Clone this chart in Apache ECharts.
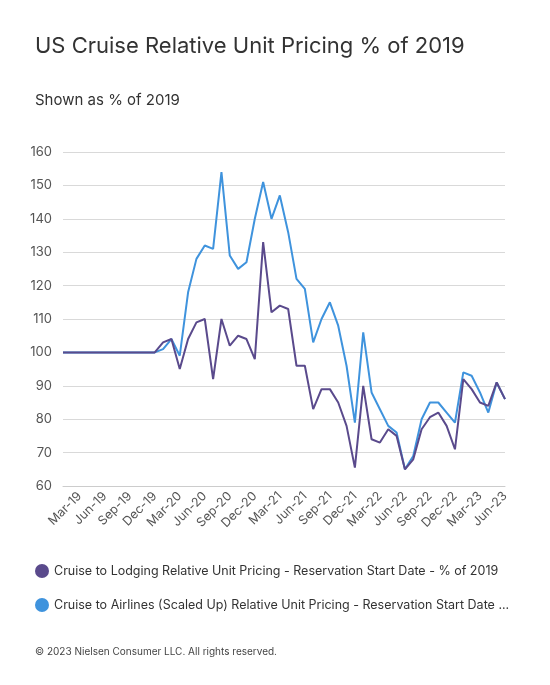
<!DOCTYPE html>
<html><head><meta charset="utf-8">
<script src="https://cdn.jsdelivr.net/npm/echarts@6/dist/echarts.min.js"></script>
<style>html,body{margin:0;padding:0;background:#fff}#c{width:550px;height:685px}</style>
</head><body><div id="c"></div>
<script>
const months = ['Jan','Feb','Mar','Apr','May','Jun','Jul','Aug','Sep','Oct','Nov','Dec'];
const categories = [];
for (let y = 19; y <= 23; y++) for (let m = 0; m < 12; m++) { if (y === 23 && m > 5) break; categories.push(months[m] + '-' + y); }
const lodging = [100,100,100,100,100,100,100,100,100,100,100,100,103,104,95,104,109,110,92,110,102,105,104,98,133,112,114,113,96,96,83,89,89,85,78,65.5,90,74,73,77,75,65,68,77,80.6,82,78,71,92,89,85,84,91,86];
const airlines = [100,100,100,100,100,100,100,100,100,100,100,100,101,104,99,118,128,132,131,154,129,125,127,140,151,140,147,136,122,119,103,110,115,108,96,79,106,88,83,78,76,65,69,80,85,85,82,79,94,93,88,82,91,86];
const seriesNames = ['Cruise to Lodging Relative Unit Pricing - Reservation Start Date - % of 2019','Cruise to Airlines (Scaled Up) Relative Unit Pricing - Reservation Start Date ...'];
const chart = echarts.init(document.getElementById('c'));
const F = 'Inter, "Noto Sans", sans-serif';
chart.setOption({
  animation:false,
  textStyle:{fontFamily:F},
  title:[{text:'US Cruise Relative Unit Pricing % of 2019',left:30,top:30,textStyle:{fontSize:22,fontWeight:'normal',color:'#333',fontFamily:F}},
         {text:'Shown as % of 2019',left:30,top:88,textStyle:{fontSize:15,fontWeight:'normal',color:'#333',fontFamily:F}},
         {text:'© 2023 Nielsen Consumer LLC. All rights reserved.',left:30,top:642,textStyle:{fontSize:10,fontWeight:'normal',color:'#444',fontFamily:F}}],
  legend:{orient:'vertical',left:30,top:559,itemGap:20,icon:'circle',itemWidth:14,itemHeight:14,
    textStyle:{fontSize:12.5,color:'#333',fontFamily:F},data:seriesNames},
  grid:{left:63,right:45,top:152,bottom:199,containLabel:false},
  xAxis:{type:'category',data:categories,boundaryGap:false,
    axisLine:{lineStyle:{color:'#ccc'}},axisTick:{show:false},
    axisLabel:{rotate:45,color:'#555',fontSize:12.5,margin:8,
      interval:(i,v)=>/^(Mar|Jun|Sep|Dec)/.test(v)}},
  yAxis:{type:'value',min:60,max:160,interval:10,
    axisLabel:{color:'#555',fontSize:13,margin:11,align:'right'},
    splitLine:{lineStyle:{color:'#d9d9d9'}},axisLine:{show:false},axisTick:{show:false}},
  series:[
    {name:seriesNames[0],type:'line',data:lodging,symbol:'none',lineStyle:{width:2,color:'#5a4a8c'},itemStyle:{color:'#5a4a8c'},z:3},
    {name:seriesNames[1],type:'line',data:airlines,symbol:'none',lineStyle:{width:2,color:'#3f93dd'},itemStyle:{color:'#3f93dd'},z:2}
  ]
});
</script></body></html>
